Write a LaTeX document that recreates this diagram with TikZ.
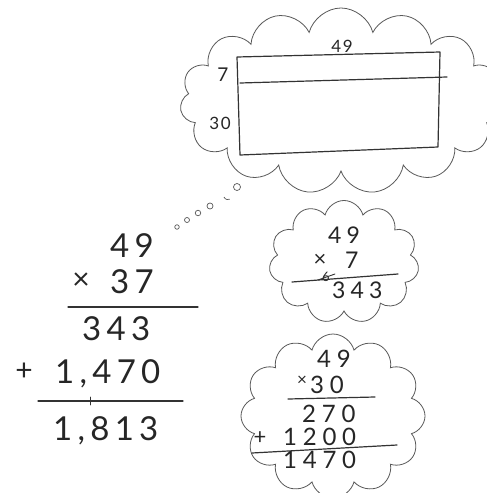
\documentclass[tikz,border=0pt]{standalone}
\usepackage{fontspec}
\setmainfont{Lato}
\newfontfamily\handA[LetterSpace=16]{Lato}
\newfontfamily\handB[LetterSpace=22]{Lato}
\newfontfamily\handC[LetterSpace=24]{Lato}
\newfontfamily\handD[LetterSpace=10]{Lato}
\usetikzlibrary{shapes.symbols}
\begin{document}
\begin{tikzpicture}[x=1pt,y=-1pt,
  pencil/.style={draw=black!80, line width=1.2pt, line cap=round, line join=round},
  thought/.style={cloud, draw=black!65, line width=0.8pt, cloud ignores aspect},
  bubble/.style={circle, draw=black!65, line width=0.7pt, inner sep=0pt},
  bignum/.style={font=\handA\fontsize{33}{33}\selectfont, text=black!85, inner sep=0pt, anchor=base west},
  midnum/.style={font=\handB\fontsize{23}{23}\selectfont, text=black!85, inner sep=0pt, anchor=base west},
  lownum/.style={font=\handC\fontsize{24}{24}\selectfont, text=black!85, inner sep=0pt, anchor=base west},
  toplab/.style={font=\handD\fontsize{17}{17}\selectfont, text=black!85, inner sep=0pt},
  sign/.style={text=black!85, inner sep=0pt}
]
\useasboundingbox (0,0) rectangle (487,493);
\fill[white] (0,0) rectangle (487,493);

% ---- top thought cloud with area model ----
\node[thought, cloud puffs=15, minimum width=322pt, minimum height=186pt] (topcloud) at (341,101) {};
\coordinate (tl) at (237,57);
\coordinate (tr) at (440,52);
\coordinate (br) at (438,147);
\coordinate (bl) at (240,155);
\coordinate (ml) at (240,83);
\coordinate (mr) at (447,77);
\draw[pencil] (tl) -- (tr) -- (br) -- (bl) -- cycle;
\draw[pencil] (ml) -- (mr);
\node[toplab] (lab49) at (342,46) {49};
\node[toplab, font=\handD\fontsize{19}{19}\selectfont] (lab7) at (223,75) {7};
\node[toplab] (lab30) at (220,123) {30};

% ---- thought bubbles ----
\node[bubble, minimum size=4.5pt] (b1) at (177,227) {};
\node[bubble, minimum size=5pt] (b2) at (187,220) {};
\node[bubble, minimum size=5.5pt] (b3) at (198,213) {};
\node[bubble, minimum size=6pt] (b4) at (210,206) {};
\draw[draw=black!65, line width=0.7pt] (224,197) arc (160:60:4);
\node[bubble, minimum size=7pt] (b5) at (237,187) {};

% ---- main computation ----
\node[bignum] (n49) at (110,257) {49};
\node[sign, font=\fontsize{30}{30}\selectfont] (times1) at (81,281) {×};
\node[bignum] (n37) at (110,293) {37};
\coordinate (l1a) at (68,307);
\coordinate (l1b) at (198,307);
\draw[pencil] (l1a) -- (l1b);
\node[bignum] (n343) at (82,340) {343};
\node[sign, font=\fontsize{30}{30}\selectfont] (plus1) at (24,372) {+};
\node[bignum] (n1470) at (55,383) {1,470};
\coordinate (l2a) at (38,401);
\coordinate (l2b) at (183,401);
\draw[pencil] (l2a) -- (l2b);
\coordinate (t1) at (90,397);
\coordinate (t2) at (90,405);
\draw[pencil, line width=0.9pt] (t1) -- (t2);
\node[bignum] (n1813) at (53,440) {1,813};

% ---- middle cloud: 49 x 7 ----
\node[thought, cloud puffs=11, minimum width=150pt, minimum height=123pt] (midcloud) at (344,262) {};
\node[midnum] (m49) at (328,243) {49};
\node[sign, font=\fontsize{22}{22}\selectfont] (m-times) at (320,260) {×};
\node[midnum] (m7) at (345,268) {7};
\node[sign, font=\fontsize{13}{13}\selectfont] (m6) at (326,277) {6};
\coordinate (s1) at (318,280);
\coordinate (s2) at (335,274);
\draw[pencil, line width=0.9pt] (s1) -- (s2);
\coordinate (m1a) at (292,282);
\coordinate (m1b) at (398,274);
\draw[pencil] (m1a) -- (m1b);
\node[midnum] (m343) at (332,298) {343};

% ---- bottom cloud: 49 x 30 ----
\node[thought, cloud puffs=12, minimum width=184pt, minimum height=164pt] (lowcloud) at (333,416) {};
\node[lownum] (b49) at (317,367) {49};
\node[sign, font=\fontsize{17}{17}\selectfont] (b-times) at (302,381) {×};
\node[lownum] (b30) at (310,393) {30};
\coordinate (b1a) at (288,399);
\coordinate (b1b) at (375,397);
\draw[pencil] (b1a) -- (b1b);
\node[lownum] (b270) at (302,422) {270};
\node[sign, font=\fontsize{22}{22}\selectfont] (b-plus) at (260,438) {+};
\node[lownum] (b1200) at (283,445) {1200};
\coordinate (b2a) at (252,453);
\coordinate (b2b) at (397,445);
\draw[pencil] (b2a) -- (b2b);
\node[lownum] (b1470) at (283,468) {1470};
\end{tikzpicture}
\end{document}
